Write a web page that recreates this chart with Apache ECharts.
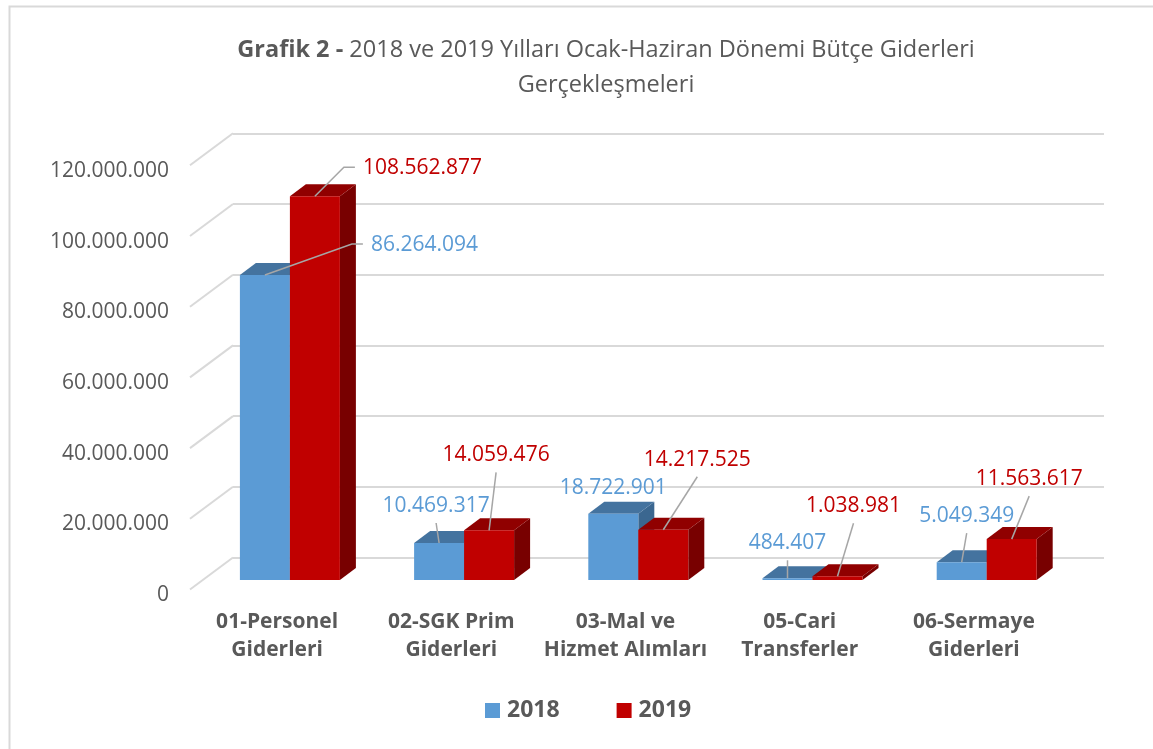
<!DOCTYPE html>
<html>
<head>
<meta charset="utf-8">
<script src="https://cdn.jsdelivr.net/npm/echarts@6/dist/echarts.min.js"></script>
<style>
  html, body { margin: 0; padding: 0; background: #fff; }
  #chart { width: 1153px; height: 749px; }
</style>
</head>
<body>
<div id="chart"></div>
<script>
const categories = ['01-Personel\nGiderleri', '02-SGK Prim\nGiderleri', '03-Mal ve\nHizmet Alımları', '05-Cari\nTransferler', '06-Sermaye\nGiderleri'];
const years = ['2018', '2019'];
const values2018 = [86264094, 10469317, 18722901, 484407, 5049349];
const values2019 = [108562877, 14059476, 14217525, 1038981, 11563617];
const yTicks = [0, 20000000, 40000000, 60000000, 80000000, 100000000, 120000000];

// where each value label sits, relative to the top-front centre of its bar
const labelNudge2018 = [[106, -30, 'left'], [-3, -37], [0, -25.5], [0, -35], [5, -46]];
const labelNudge2019 = [[48, -28, 'left'], [7, -75], [34, -70], [16, -70], [17.5, -60]];

const FONT = '"Open Sans", "Noto Sans", sans-serif';
const GREY = '#595959';
const DEPTH = [43, -32];     // front of the floor -> back wall
const BAR_DEPTH = [16, -12]; // thickness of one bar

const fmt = v => String(v).replace(/\B(?=(\d{3})+(?!\d))/g, '.');

const chart = echarts.init(document.getElementById('chart'));

function barItem(side, front, top, sideCol) {
  return function (params, api) {
    const i = api.value(0);
    const base = api.coord([i, 0]);
    const head = api.coord([i, api.value(1)]);
    const w = api.size([1, 0])[0] * 0.287;
    const x0 = side === 0 ? base[0] - w : base[0];
    const x1 = x0 + w;
    const [dx, dy] = BAR_DEPTH;
    const ty = head[1], by = base[1];
    return {
      type: 'group',
      children: [
        { type: 'polygon', shape: { points: [[x1, ty], [x1 + dx, ty + dy], [x1 + dx, by + dy], [x1, by]] }, style: { fill: sideCol } },
        { type: 'polygon', shape: { points: [[x0, ty], [x0 + dx, ty + dy], [x1 + dx, ty + dy], [x1, ty]] }, style: { fill: top } },
        { type: 'rect', shape: { x: x0, y: ty, width: w, height: by - ty }, style: { fill: front } }
      ]
    };
  };
}

function labelItem(side, color, nudges) {
  return function (params, api) {
    const i = api.value(0);
    const v = api.value(1);
    const base = api.coord([i, 0]);
    const head = api.coord([i, v]);
    const w = api.size([1, 0])[0] * 0.287;
    const ax = side === 0 ? base[0] - w / 2 : base[0] + w / 2;
    const ay = head[1];
    const n = nudges[params.dataIndex];
    const tx = ax + n[0], ty = ay + n[1];
    const children = [];
    if (n[2] === 'left') {
      children.push({ type: 'polyline', shape: { points: [[ax, ay], [tx - 19, ty - 1], [tx - 8, ty - 1]] },
        style: { stroke: '#A6A6A6', lineWidth: 1.5, fill: null } });
    } else if (Math.abs(n[1]) > 30) {
      children.push({ type: 'line', shape: { x1: ax, y1: ay, x2: tx, y2: ty + 17 },
        style: { stroke: '#A6A6A6', lineWidth: 1.5 } });
    }
    children.push({
      type: 'text', x: tx, y: ty,
      style: { text: fmt(v), fill: color, font: '21px ' + FONT, align: n[2] || 'center', verticalAlign: 'middle' }
    });
    return { type: 'group', children: children };
  };
}

const hiddenCat = i => ({ type: 'category', gridIndex: i, data: categories, show: false });
const hiddenVal = i => ({ type: 'value', gridIndex: i, min: 0, max: 120000000, interval: 20000000, show: false });

chart.setOption({
  backgroundColor: '#fff',
  animation: false,
  title: {
    text: '{b|Grafik 2 -} 2018 ve 2019 Yılları Ocak-Haziran Dönemi Bütçe Giderleri\nGerçekleşmeleri',
    left: 601,
    top: 28,
    textAlign: 'center',
    textStyle: {
      fontFamily: FONT, fontSize: 23.5, fontWeight: 'normal', color: GREY, lineHeight: 35,
      rich: { b: { fontFamily: FONT, fontSize: 23.5, fontWeight: 'bold', color: GREY, lineHeight: 35 } }
    }
  },
  legend: {
    data: [
      { name: '2018', itemStyle: { color: '#5B9BD5' } },
      { name: '2019', itemStyle: { color: '#C00000' } }
    ],
    left: 480,
    top: 694,
    icon: 'rect',
    itemWidth: 15,
    itemHeight: 15,
    itemGap: 57,
    textStyle: { fontFamily: FONT, fontSize: 23, fontWeight: 'bold', color: GREY, padding: [0, 0, 0, 2] }
  },
  graphic: [{
    type: 'rect', left: 7, top: 4, shape: { width: 1160, height: 760 },
    style: { fill: null, stroke: '#D9D9D9', lineWidth: 2 }, silent: true
  }],
  grid: [
    { left: 233, right: 49, top: 133.3, bottom: 191.5 },  // back wall
    { left: 202.8, right: 79.2, top: 155.8, bottom: 169 }, // plane of the bars
    { left: 190, right: 92, top: 171, bottom: 154 }        // front edge (labels)
  ],
  xAxis: [
    hiddenCat(0),
    hiddenCat(1),
    {
      type: 'category', gridIndex: 2, data: categories,
      axisLine: { show: false }, axisTick: { show: false },
      axisLabel: { interval: 0, margin: 13, fontFamily: FONT, fontSize: 21, fontWeight: 'bold', color: GREY, lineHeight: 28 }
    }
  ],
  yAxis: [
    {
      type: 'value', gridIndex: 0, min: 0, max: 120000000, interval: 20000000,
      axisLine: { show: false }, axisTick: { show: false }, axisLabel: { show: false },
      splitLine: { show: true, lineStyle: { color: '#D9D9D9', width: 2 } }
    },
    hiddenVal(1),
    {
      type: 'value', gridIndex: 2, min: 0, max: 120000000, interval: 20000000,
      axisLine: { show: false }, axisTick: { show: false }, splitLine: { show: false },
      axisLabel: { margin: 21, fontFamily: FONT, fontSize: 21, color: GREY, formatter: fmt }
    }
  ],
  series: [
    {
      type: 'custom', xAxisIndex: 0, yAxisIndex: 0, silent: true, clip: false, z: 1,
      data: yTicks.map(v => [0, v]),
      renderItem: function (params, api) {
        const y = api.coord([0, api.value(1)])[1];
        const x = params.coordSys.x;
        return {
          type: 'line',
          shape: { x1: x - DEPTH[0], y1: y - DEPTH[1], x2: x, y2: y },
          style: { stroke: '#D9D9D9', lineWidth: 2 }
        };
      }
    },
    {
      name: years[0], type: 'custom', xAxisIndex: 1, yAxisIndex: 1, clip: false, z: 2,
      itemStyle: { color: '#5B9BD5' },
      data: values2018.map((v, i) => [i, v]),
      renderItem: barItem(0, '#5B9BD5', '#44739F', '#3B6790')
    },
    {
      name: years[1], type: 'custom', xAxisIndex: 1, yAxisIndex: 1, clip: false, z: 3,
      itemStyle: { color: '#C00000' },
      data: values2019.map((v, i) => [i, v]),
      renderItem: barItem(1, '#C00000', '#900000', '#780000')
    },
    {
      name: years[0], type: 'custom', xAxisIndex: 1, yAxisIndex: 1, clip: false, z: 5, silent: true,
      data: values2018.map((v, i) => [i, v]),
      renderItem: labelItem(0, '#5B9BD5', labelNudge2018)
    },
    {
      name: years[1], type: 'custom', xAxisIndex: 1, yAxisIndex: 1, clip: false, z: 5, silent: true,
      data: values2019.map((v, i) => [i, v]),
      renderItem: labelItem(1, '#C00000', labelNudge2019)
    }
  ]
});
</script>
</body>
</html>
